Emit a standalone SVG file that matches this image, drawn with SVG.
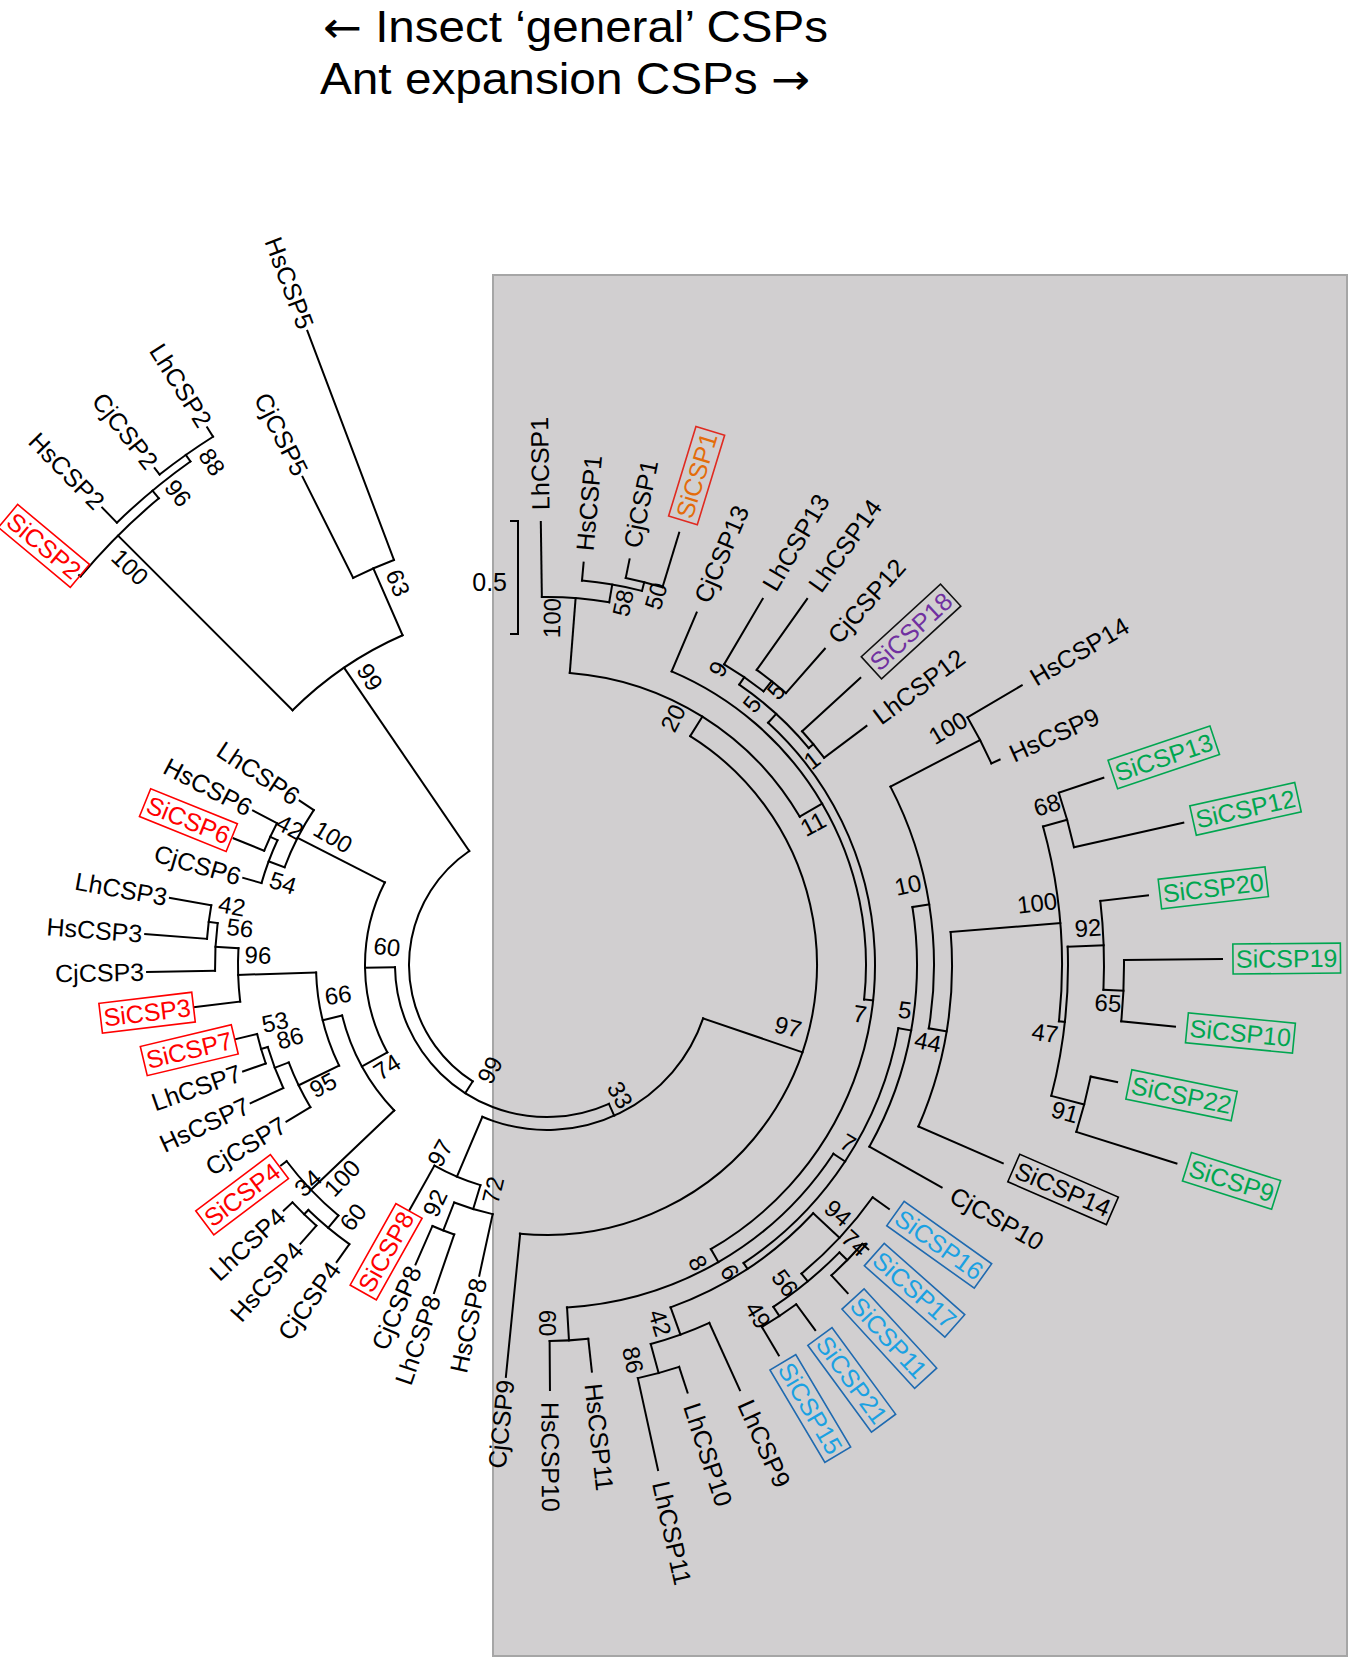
<svg xmlns="http://www.w3.org/2000/svg" width="1350" height="1660" viewBox="0 0 1350 1660">
<style>
.br line,.br circle{fill:none;stroke:#000;stroke-width:2;stroke-linecap:square}
.lf{font-family:"Liberation Sans",Arial,Helvetica,sans-serif;font-size:25px;fill:#000}
.bs{font-family:"Liberation Sans",Arial,Helvetica,sans-serif;font-size:24px;fill:#000;text-anchor:middle}
.ttl{font-family:"Liberation Sans",Arial,Helvetica,sans-serif;font-size:44px;fill:#000}
.arw{font-family:"DejaVu Sans",sans-serif;font-size:43px}
rect.bx{fill:none;stroke-width:1.6}
.red text{fill:#ff0000}.red rect{stroke:#ff0000}
.org text{fill:#e46c0a}.org rect{stroke:#e02a20}
.pur text{fill:#7030a0}.pur rect{stroke:#111}
.grn text{fill:#00a650}.grn rect{stroke:#00a650}
.blu text{fill:#1ba1e2}.blu rect{stroke:#1f6ab0}
.blk rect{stroke:#000}
</style>
<rect width="1350" height="1660" fill="#fff"/>
<g id="title">
<text class="ttl" x="323" y="42" textLength="505" lengthAdjust="spacingAndGlyphs"><tspan class="arw">←</tspan> Insect ‘general’ CSPs</text>
<text class="ttl" x="320" y="94" textLength="490" lengthAdjust="spacingAndGlyphs">Ant expansion CSPs <tspan class="arw">→</tspan></text>
</g>
<rect id="ant-expansion-box" x="493" y="275" width="854" height="1381" fill="#d1cfd0" stroke="#a6a6a6" stroke-width="2"/>
<g id="scale">
<path d="M510 521H518V634H510" fill="none" stroke="#000" stroke-width="2"/>
<text class="lf" x="507" y="591" text-anchor="end" font-size="24">0.5</text>
</g>
<g id="connectors" class="br">
<circle cx="547" cy="965" r="138" stroke-dasharray="272.50 9999" transform="rotate(122.55 547 965)"/>
<circle cx="547" cy="965" r="360" stroke-dasharray="133.96 9999" transform="rotate(225.03 547 965)"/>
<circle cx="547" cy="965" r="433" stroke-dasharray="44.59 9999" transform="rotate(243.4 547 965)"/>
<circle cx="547" cy="965" r="607" stroke-dasharray="110.71 9999" transform="rotate(219.8 547 965)"/>
<circle cx="547" cy="965" r="617" stroke-dasharray="95.84 9999" transform="rotate(225.8 547 965)"/>
<circle cx="547" cy="965" r="625" stroke-dasharray="65.45 9999" transform="rotate(231.7 547 965)"/>
<circle cx="547" cy="965" r="152" stroke-dasharray="300.26 9999" transform="rotate(65.96 547 965)"/>
<circle cx="547" cy="965" r="182" stroke-dasharray="177.03 9999" transform="rotate(151.28 547 965)"/>
<circle cx="547" cy="965" r="280" stroke-dasharray="64.36 9999" transform="rotate(200.43 547 965)"/>
<circle cx="547" cy="965" r="297" stroke-dasharray="45.87 9999" transform="rotate(196 547 965)"/>
<circle cx="547" cy="965" r="305" stroke-dasharray="30.34 9999" transform="rotate(202 547 965)"/>
<circle cx="547" cy="965" r="211" stroke-dasharray="109.63 9999" transform="rotate(136.39 547 965)"/>
<circle cx="547" cy="965" r="231" stroke-dasharray="96.76 9999" transform="rotate(154.16 547 965)"/>
<circle cx="547" cy="965" r="309" stroke-dasharray="53.55 9999" transform="rotate(173.2 547 965)"/>
<circle cx="547" cy="965" r="332" stroke-dasharray="47.80 9999" transform="rotate(179 547 965)"/>
<circle cx="547" cy="965" r="341" stroke-dasharray="33.92 9999" transform="rotate(184.4 547 965)"/>
<circle cx="547" cy="965" r="276" stroke-dasharray="49.76 9999" transform="rotate(149 547 965)"/>
<circle cx="547" cy="965" r="291" stroke-dasharray="43.93 9999" transform="rotate(155 547 965)"/>
<circle cx="547" cy="965" r="298" stroke-dasharray="30.69 9999" transform="rotate(160.7 547 965)"/>
<circle cx="547" cy="965" r="326" stroke-dasharray="75.22 9999" transform="rotate(129.78 547 965)"/>
<circle cx="547" cy="965" r="342" stroke-dasharray="53.42 9999" transform="rotate(125.3 547 965)"/>
<circle cx="547" cy="965" r="348" stroke-dasharray="33.41 9999" transform="rotate(131.5 547 965)"/>
<circle cx="547" cy="965" r="165" stroke-dasharray="271.25 9999" transform="rotate(18.87 547 965)"/>
<circle cx="547" cy="965" r="230" stroke-dasharray="50.06 9999" transform="rotate(106.83 547 965)"/>
<circle cx="547" cy="965" r="255" stroke-dasharray="40.28 9999" transform="rotate(102.3 547 965)"/>
<circle cx="547" cy="965" r="285" stroke-dasharray="23.38 9999" transform="rotate(109 547 965)"/>
<circle cx="547" cy="965" r="270" stroke-dasharray="724.15 9999" transform="rotate(302.03 547 965)"/>
<circle cx="547" cy="965" r="293" stroke-dasharray="281.98 9999" transform="rotate(274.46 547 965)"/>
<circle cx="547" cy="965" r="368" stroke-dasharray="67.63 9999" transform="rotate(269.2 547 965)"/>
<circle cx="547" cy="965" r="386" stroke-dasharray="60.97 9999" transform="rotate(275.2 547 965)"/>
<circle cx="547" cy="965" r="395" stroke-dasharray="37.92 9999" transform="rotate(281.5 547 965)"/>
<circle cx="547" cy="965" r="319" stroke-dasharray="407.55 9999" transform="rotate(293 547 965)"/>
<circle cx="547" cy="965" r="328" stroke-dasharray="616.14 9999" transform="rotate(312.39 547 965)"/>
<circle cx="547" cy="965" r="340" stroke-dasharray="94.47 9999" transform="rotate(304.43 547 965)"/>
<circle cx="547" cy="965" r="349" stroke-dasharray="47.82 9999" transform="rotate(300.5 547 965)"/>
<circle cx="547" cy="965" r="362" stroke-dasharray="37.28 9999" transform="rotate(305.4 547 965)"/>
<circle cx="547" cy="965" r="346" stroke-dasharray="34.42 9999" transform="rotate(317.5 547 965)"/>
<circle cx="547" cy="965" r="343" stroke-dasharray="318.90 9999" transform="rotate(33.38 547 965)"/>
<circle cx="547" cy="965" r="357" stroke-dasharray="289.05 9999" transform="rotate(10.19 547 965)"/>
<circle cx="547" cy="965" r="370" stroke-dasharray="248.10 9999" transform="rotate(350.98 547 965)"/>
<circle cx="547" cy="965" r="387" stroke-dasharray="249.03 9999" transform="rotate(332.55 547 965)"/>
<circle cx="547" cy="965" r="488" stroke-dasharray="51.95 9999" transform="rotate(329.5 547 965)"/>
<circle cx="547" cy="965" r="405" stroke-dasharray="199.12 9999" transform="rotate(355.33 547 965)"/>
<circle cx="547" cy="965" r="515" stroke-dasharray="196.58 9999" transform="rotate(344.4 547 965)"/>
<circle cx="547" cy="965" r="540" stroke-dasharray="56.55 9999" transform="rotate(341.4 547 965)"/>
<circle cx="547" cy="965" r="521" stroke-dasharray="150.67 9999" transform="rotate(357.98 547 965)"/>
<circle cx="547" cy="965" r="557" stroke-dasharray="88.95 9999" transform="rotate(353.4 547 965)"/>
<circle cx="547" cy="965" r="577" stroke-dasharray="61.43 9999" transform="rotate(359.5 547 965)"/>
<circle cx="547" cy="965" r="555" stroke-dasharray="57.15 9999" transform="rotate(11.6 547 965)"/>
<circle cx="547" cy="965" r="364" stroke-dasharray="172.48 9999" transform="rotate(43 547 965)"/>
<circle cx="547" cy="965" r="400" stroke-dasharray="104.72 9999" transform="rotate(35.5 547 965)"/>
<circle cx="547" cy="965" r="410" stroke-dasharray="85.87 9999" transform="rotate(44.5 547 965)"/>
<circle cx="547" cy="965" r="421" stroke-dasharray="44.09 9999" transform="rotate(41.5 547 965)"/>
<circle cx="547" cy="965" r="421" stroke-dasharray="41.15 9999" transform="rotate(53.7 547 965)"/>
<circle cx="547" cy="965" r="393" stroke-dasharray="62.42 9999" transform="rotate(65.6 547 965)"/>
<circle cx="547" cy="965" r="423" stroke-dasharray="42.82 9999" transform="rotate(71.8 547 965)"/>
<circle cx="547" cy="965" r="376" stroke-dasharray="38.72 9999" transform="rotate(83.7 547 965)"/>
<line x1="685" y1="965" x2="907" y2="965" transform="rotate(235.69 547 965)"/>
<line x1="907" y1="965" x2="980" y2="965" transform="rotate(246.35 547 965)"/>
<line x1="980" y1="965" x2="1093" y2="965" transform="rotate(243.4 547 965)"/>
<line x1="980" y1="965" x2="1225" y2="965" transform="rotate(249.3 547 965)"/>
<line x1="907" y1="965" x2="1154" y2="965" transform="rotate(225.03 547 965)"/>
<line x1="1154" y1="965" x2="1156" y2="965" transform="rotate(219.8 547 965)"/>
<line x1="1154" y1="965" x2="1164" y2="965" transform="rotate(230.25 547 965)"/>
<line x1="1164" y1="965" x2="1185" y2="965" transform="rotate(225.8 547 965)"/>
<line x1="1164" y1="965" x2="1172" y2="965" transform="rotate(234.7 547 965)"/>
<line x1="1172" y1="965" x2="1180" y2="965" transform="rotate(231.7 547 965)"/>
<line x1="1172" y1="965" x2="1183" y2="965" transform="rotate(237.7 547 965)"/>
<line x1="685" y1="965" x2="699" y2="965" transform="rotate(122.55 547 965)"/>
<line x1="699" y1="965" x2="729" y2="965" transform="rotate(179.14 547 965)"/>
<line x1="729" y1="965" x2="827" y2="965" transform="rotate(207.01 547 965)"/>
<line x1="827" y1="965" x2="844" y2="965" transform="rotate(213.6 547 965)"/>
<line x1="827" y1="965" x2="844" y2="965" transform="rotate(200.43 547 965)"/>
<line x1="844" y1="965" x2="863" y2="965" transform="rotate(196 547 965)"/>
<line x1="844" y1="965" x2="852" y2="965" transform="rotate(204.85 547 965)"/>
<line x1="852" y1="965" x2="885" y2="965" transform="rotate(202 547 965)"/>
<line x1="852" y1="965" x2="879" y2="965" transform="rotate(207.7 547 965)"/>
<line x1="729" y1="965" x2="758" y2="965" transform="rotate(151.28 547 965)"/>
<line x1="758" y1="965" x2="778" y2="965" transform="rotate(166.16 547 965)"/>
<line x1="778" y1="965" x2="856" y2="965" transform="rotate(178.16 547 965)"/>
<line x1="856" y1="965" x2="902" y2="965" transform="rotate(173.2 547 965)"/>
<line x1="856" y1="965" x2="879" y2="965" transform="rotate(183.13 547 965)"/>
<line x1="879" y1="965" x2="947" y2="965" transform="rotate(179 547 965)"/>
<line x1="879" y1="965" x2="888" y2="965" transform="rotate(187.25 547 965)"/>
<line x1="888" y1="965" x2="950" y2="965" transform="rotate(184.4 547 965)"/>
<line x1="888" y1="965" x2="930" y2="965" transform="rotate(190.1 547 965)"/>
<line x1="778" y1="965" x2="823" y2="965" transform="rotate(154.16 547 965)"/>
<line x1="823" y1="965" x2="851" y2="965" transform="rotate(149 547 965)"/>
<line x1="823" y1="965" x2="838" y2="965" transform="rotate(159.33 547 965)"/>
<line x1="838" y1="965" x2="874" y2="965" transform="rotate(155 547 965)"/>
<line x1="838" y1="965" x2="845" y2="965" transform="rotate(163.65 547 965)"/>
<line x1="845" y1="965" x2="869" y2="965" transform="rotate(160.7 547 965)"/>
<line x1="845" y1="965" x2="867" y2="965" transform="rotate(166.6 547 965)"/>
<line x1="758" y1="965" x2="873" y2="965" transform="rotate(136.39 547 965)"/>
<line x1="873" y1="965" x2="880" y2="965" transform="rotate(143 547 965)"/>
<line x1="873" y1="965" x2="889" y2="965" transform="rotate(129.78 547 965)"/>
<line x1="889" y1="965" x2="911" y2="965" transform="rotate(125.3 547 965)"/>
<line x1="889" y1="965" x2="895" y2="965" transform="rotate(134.25 547 965)"/>
<line x1="895" y1="965" x2="919" y2="965" transform="rotate(131.5 547 965)"/>
<line x1="895" y1="965" x2="907" y2="965" transform="rotate(137 547 965)"/>
<line x1="699" y1="965" x2="712" y2="965" transform="rotate(65.96 547 965)"/>
<line x1="712" y1="965" x2="777" y2="965" transform="rotate(113.06 547 965)"/>
<line x1="777" y1="965" x2="828" y2="965" transform="rotate(119.3 547 965)"/>
<line x1="777" y1="965" x2="802" y2="965" transform="rotate(106.83 547 965)"/>
<line x1="802" y1="965" x2="865" y2="965" transform="rotate(102.3 547 965)"/>
<line x1="802" y1="965" x2="832" y2="965" transform="rotate(111.35 547 965)"/>
<line x1="832" y1="965" x2="894" y2="965" transform="rotate(109 547 965)"/>
<line x1="832" y1="965" x2="874" y2="965" transform="rotate(113.7 547 965)"/>
<line x1="712" y1="965" x2="817" y2="965" transform="rotate(18.87 547 965)"/>
<line x1="817" y1="965" x2="961" y2="965" transform="rotate(95.7 547 965)"/>
<line x1="817" y1="965" x2="840" y2="965" transform="rotate(302.03 547 965)"/>
<line x1="840" y1="965" x2="915" y2="965" transform="rotate(274.46 547 965)"/>
<line x1="915" y1="965" x2="990" y2="965" transform="rotate(269.2 547 965)"/>
<line x1="915" y1="965" x2="933" y2="965" transform="rotate(279.73 547 965)"/>
<line x1="933" y1="965" x2="951" y2="965" transform="rotate(275.2 547 965)"/>
<line x1="933" y1="965" x2="942" y2="965" transform="rotate(284.25 547 965)"/>
<line x1="942" y1="965" x2="961" y2="965" transform="rotate(281.5 547 965)"/>
<line x1="942" y1="965" x2="999" y2="965" transform="rotate(287 547 965)"/>
<line x1="840" y1="965" x2="866" y2="965" transform="rotate(329.6 547 965)"/>
<line x1="866" y1="965" x2="930" y2="965" transform="rotate(293 547 965)"/>
<line x1="866" y1="965" x2="875" y2="965" transform="rotate(6.2 547 965)"/>
<line x1="875" y1="965" x2="887" y2="965" transform="rotate(312.39 547 965)"/>
<line x1="887" y1="965" x2="896" y2="965" transform="rotate(304.43 547 965)"/>
<line x1="896" y1="965" x2="972" y2="965" transform="rotate(300.5 547 965)"/>
<line x1="896" y1="965" x2="909" y2="965" transform="rotate(308.35 547 965)"/>
<line x1="909" y1="965" x2="996" y2="965" transform="rotate(305.4 547 965)"/>
<line x1="909" y1="965" x2="968" y2="965" transform="rotate(311.3 547 965)"/>
<line x1="887" y1="965" x2="893" y2="965" transform="rotate(320.35 547 965)"/>
<line x1="893" y1="965" x2="972" y2="965" transform="rotate(317.5 547 965)"/>
<line x1="893" y1="965" x2="946" y2="965" transform="rotate(323.2 547 965)"/>
<line x1="875" y1="965" x2="890" y2="965" transform="rotate(60.02 547 965)"/>
<line x1="890" y1="965" x2="904" y2="965" transform="rotate(33.38 547 965)"/>
<line x1="904" y1="965" x2="917" y2="965" transform="rotate(10.19 547 965)"/>
<line x1="917" y1="965" x2="934" y2="965" transform="rotate(350.98 547 965)"/>
<line x1="934" y1="965" x2="1035" y2="965" transform="rotate(332.55 547 965)"/>
<line x1="1035" y1="965" x2="1098" y2="965" transform="rotate(329.5 547 965)"/>
<line x1="1035" y1="965" x2="1044" y2="965" transform="rotate(335.6 547 965)"/>
<line x1="934" y1="965" x2="952" y2="965" transform="rotate(9.42 547 965)"/>
<line x1="952" y1="965" x2="1062" y2="965" transform="rotate(355.33 547 965)"/>
<line x1="1062" y1="965" x2="1087" y2="965" transform="rotate(344.4 547 965)"/>
<line x1="1087" y1="965" x2="1134" y2="965" transform="rotate(341.4 547 965)"/>
<line x1="1087" y1="965" x2="1199" y2="965" transform="rotate(347.4 547 965)"/>
<line x1="1062" y1="965" x2="1068" y2="965" transform="rotate(6.27 547 965)"/>
<line x1="1068" y1="965" x2="1104" y2="965" transform="rotate(357.98 547 965)"/>
<line x1="1104" y1="965" x2="1152" y2="965" transform="rotate(353.4 547 965)"/>
<line x1="1104" y1="965" x2="1124" y2="965" transform="rotate(2.55 547 965)"/>
<line x1="1124" y1="965" x2="1222" y2="965" transform="rotate(359.5 547 965)"/>
<line x1="1124" y1="965" x2="1178" y2="965" transform="rotate(5.6 547 965)"/>
<line x1="1068" y1="965" x2="1102" y2="965" transform="rotate(14.55 547 965)"/>
<line x1="1102" y1="965" x2="1129" y2="965" transform="rotate(11.6 547 965)"/>
<line x1="1102" y1="965" x2="1207" y2="965" transform="rotate(17.5 547 965)"/>
<line x1="952" y1="965" x2="1044" y2="965" transform="rotate(23.5 547 965)"/>
<line x1="917" y1="965" x2="1000" y2="965" transform="rotate(29.4 547 965)"/>
<line x1="904" y1="965" x2="911" y2="965" transform="rotate(56.58 547 965)"/>
<line x1="911" y1="965" x2="947" y2="965" transform="rotate(43 547 965)"/>
<line x1="947" y1="965" x2="967" y2="965" transform="rotate(35.5 547 965)"/>
<line x1="947" y1="965" x2="957" y2="965" transform="rotate(50.5 547 965)"/>
<line x1="957" y1="965" x2="968" y2="965" transform="rotate(44.5 547 965)"/>
<line x1="968" y1="965" x2="976" y2="965" transform="rotate(41.5 547 965)"/>
<line x1="968" y1="965" x2="992" y2="965" transform="rotate(47.5 547 965)"/>
<line x1="957" y1="965" x2="968" y2="965" transform="rotate(56.5 547 965)"/>
<line x1="968" y1="965" x2="1000" y2="965" transform="rotate(53.7 547 965)"/>
<line x1="968" y1="965" x2="1001" y2="965" transform="rotate(59.3 547 965)"/>
<line x1="911" y1="965" x2="940" y2="965" transform="rotate(70.15 547 965)"/>
<line x1="940" y1="965" x2="1014" y2="965" transform="rotate(65.6 547 965)"/>
<line x1="940" y1="965" x2="970" y2="965" transform="rotate(74.7 547 965)"/>
<line x1="970" y1="965" x2="997" y2="965" transform="rotate(71.8 547 965)"/>
<line x1="970" y1="965" x2="1064" y2="965" transform="rotate(77.6 547 965)"/>
<line x1="890" y1="965" x2="923" y2="965" transform="rotate(86.65 547 965)"/>
<line x1="923" y1="965" x2="956" y2="965" transform="rotate(83.7 547 965)"/>
<line x1="923" y1="965" x2="972" y2="965" transform="rotate(89.6 547 965)"/>
</g>
<g id="leaves">
<g id="LhCSP1"><text class="lf" x="1002" y="965" dy=".35em" transform="rotate(269.2 547 965)">LhCSP1</text></g>
<g id="HsCSP1"><text class="lf" x="963" y="965" dy=".35em" transform="rotate(275.2 547 965)">HsCSP1</text></g>
<g id="CjCSP1"><text class="lf" x="973" y="965" dy=".35em" transform="rotate(281.5 547 965)">CjCSP1</text></g>
<g id="SiCSP1" class="org" transform="rotate(287 547 965)"><rect class="bx" x="1012" y="950" width="93.5" height="30"/><text class="lf" x="1015" y="965" dy=".35em">SiCSP1</text></g>
<g id="CjCSP13"><text class="lf" x="942" y="965" dy=".35em" transform="rotate(293 547 965)">CjCSP13</text></g>
<g id="LhCSP13"><text class="lf" x="984" y="965" dy=".35em" transform="rotate(300.5 547 965)">LhCSP13</text></g>
<g id="LhCSP14"><text class="lf" x="1008" y="965" dy=".35em" transform="rotate(305.4 547 965)">LhCSP14</text></g>
<g id="CjCSP12"><text class="lf" x="980" y="965" dy=".35em" transform="rotate(311.3 547 965)">CjCSP12</text></g>
<g id="SiCSP18" class="pur" transform="rotate(317.5 547 965)"><rect class="bx" x="987" y="950" width="107.5" height="30"/><text class="lf" x="990" y="965" dy=".35em">SiCSP18</text></g>
<g id="LhCSP12"><text class="lf" x="958" y="965" dy=".35em" transform="rotate(323.2 547 965)">LhCSP12</text></g>
<g id="HsCSP14"><text class="lf" x="1110" y="965" dy=".35em" transform="rotate(329.5 547 965)">HsCSP14</text></g>
<g id="HsCSP9"><text class="lf" x="1056" y="965" dy=".35em" transform="rotate(335.6 547 965)">HsCSP9</text></g>
<g id="SiCSP13" class="grn" transform="rotate(341.4 547 965)"><rect class="bx" x="1144" y="950" width="107.5" height="30"/><text class="lf" x="1147" y="965" dy=".35em">SiCSP13</text></g>
<g id="SiCSP12" class="grn" transform="rotate(347.4 547 965)"><rect class="bx" x="1209" y="950" width="107.5" height="30"/><text class="lf" x="1212" y="965" dy=".35em">SiCSP12</text></g>
<g id="SiCSP20" class="grn" transform="rotate(353.4 547 965)"><rect class="bx" x="1164" y="950" width="107.5" height="30"/><text class="lf" x="1167" y="965" dy=".35em">SiCSP20</text></g>
<g id="SiCSP19" class="grn" transform="rotate(359.5 547 965)"><rect class="bx" x="1233" y="950" width="107.5" height="30"/><text class="lf" x="1236" y="965" dy=".35em">SiCSP19</text></g>
<g id="SiCSP10" class="grn" transform="rotate(5.6 547 965)"><rect class="bx" x="1190" y="950" width="107.5" height="30"/><text class="lf" x="1193" y="965" dy=".35em">SiCSP10</text></g>
<g id="SiCSP22" class="grn" transform="rotate(11.6 547 965)"><rect class="bx" x="1141" y="950" width="107.5" height="30"/><text class="lf" x="1144" y="965" dy=".35em">SiCSP22</text></g>
<g id="SiCSP9" class="grn" transform="rotate(17.5 547 965)"><rect class="bx" x="1218" y="950" width="93.5" height="30"/><text class="lf" x="1221" y="965" dy=".35em">SiCSP9</text></g>
<g id="SiCSP14" class="blk" transform="rotate(23.5 547 965)"><rect class="bx" x="1056" y="950" width="107.5" height="30"/><text class="lf" x="1059" y="965" dy=".35em">SiCSP14</text></g>
<g id="CjCSP10"><text class="lf" x="1012" y="965" dy=".35em" transform="rotate(29.4 547 965)">CjCSP10</text></g>
<g id="SiCSP16" class="blu" transform="rotate(35.5 547 965)"><rect class="bx" x="975" y="950" width="107.5" height="30"/><text class="lf" x="978" y="965" dy=".35em">SiCSP16</text></g>
<g id="SiCSP17" class="blu" transform="rotate(41.5 547 965)"><rect class="bx" x="984" y="950" width="107.5" height="30"/><text class="lf" x="987" y="965" dy=".35em">SiCSP17</text></g>
<g id="SiCSP11" class="blu" transform="rotate(47.5 547 965)"><rect class="bx" x="1000" y="950" width="107.5" height="30"/><text class="lf" x="1003" y="965" dy=".35em">SiCSP11</text></g>
<g id="SiCSP21" class="blu" transform="rotate(53.7 547 965)"><rect class="bx" x="1008" y="950" width="107.5" height="30"/><text class="lf" x="1011" y="965" dy=".35em">SiCSP21</text></g>
<g id="SiCSP15" class="blu" transform="rotate(59.3 547 965)"><rect class="bx" x="1009" y="950" width="107.5" height="30"/><text class="lf" x="1012" y="965" dy=".35em">SiCSP15</text></g>
<g id="LhCSP9"><text class="lf" x="1026" y="965" dy=".35em" transform="rotate(65.6 547 965)">LhCSP9</text></g>
<g id="LhCSP10"><text class="lf" x="1009" y="965" dy=".35em" transform="rotate(71.8 547 965)">LhCSP10</text></g>
<g id="LhCSP11"><text class="lf" x="1076" y="965" dy=".35em" transform="rotate(77.6 547 965)">LhCSP11</text></g>
<g id="HsCSP11"><text class="lf" x="968" y="965" dy=".35em" transform="rotate(83.7 547 965)">HsCSP11</text></g>
<g id="HsCSP10"><text class="lf" x="984" y="965" dy=".35em" transform="rotate(89.6 547 965)">HsCSP10</text></g>
<g id="CjCSP9"><text class="lf" x="130" y="965" dy=".35em" text-anchor="end" transform="rotate(275.7 547 965)">CjCSP9</text></g>
<g id="HsCSP8"><text class="lf" x="226" y="965" dy=".35em" text-anchor="end" transform="rotate(282.3 547 965)">HsCSP8</text></g>
<g id="LhCSP8"><text class="lf" x="197" y="965" dy=".35em" text-anchor="end" transform="rotate(289 547 965)">LhCSP8</text></g>
<g id="CjCSP8"><text class="lf" x="217" y="965" dy=".35em" text-anchor="end" transform="rotate(293.7 547 965)">CjCSP8</text></g>
<g id="SiCSP8" class="red" transform="rotate(299.3 547 965)"><rect class="bx" x="171.5" y="950" width="93.5" height="30"/><text class="lf" x="262" y="965" dy=".35em" text-anchor="end">SiCSP8</text></g>
<g id="CjCSP4"><text class="lf" x="180" y="965" dy=".35em" text-anchor="end" transform="rotate(305.3 547 965)">CjCSP4</text></g>
<g id="HsCSP4"><text class="lf" x="172" y="965" dy=".35em" text-anchor="end" transform="rotate(311.5 547 965)">HsCSP4</text></g>
<g id="LhCSP4"><text class="lf" x="184" y="965" dy=".35em" text-anchor="end" transform="rotate(317 547 965)">LhCSP4</text></g>
<g id="SiCSP4" class="red" transform="rotate(323 547 965)"><rect class="bx" x="118.5" y="950" width="93.5" height="30"/><text class="lf" x="209" y="965" dy=".35em" text-anchor="end">SiCSP4</text></g>
<g id="CjCSP7"><text class="lf" x="240" y="965" dy=".35em" text-anchor="end" transform="rotate(329 547 965)">CjCSP7</text></g>
<g id="HsCSP7"><text class="lf" x="217" y="965" dy=".35em" text-anchor="end" transform="rotate(335 547 965)">HsCSP7</text></g>
<g id="LhCSP7"><text class="lf" x="222" y="965" dy=".35em" text-anchor="end" transform="rotate(340.7 547 965)">LhCSP7</text></g>
<g id="SiCSP7" class="red" transform="rotate(346.6 547 965)"><rect class="bx" x="132.5" y="950" width="93.5" height="30"/><text class="lf" x="223" y="965" dy=".35em" text-anchor="end">SiCSP7</text></g>
<g id="SiCSP3" class="red" transform="rotate(353.2 547 965)"><rect class="bx" x="97.5" y="950" width="93.5" height="30"/><text class="lf" x="188" y="965" dy=".35em" text-anchor="end">SiCSP3</text></g>
<g id="CjCSP3"><text class="lf" x="144" y="965" dy=".35em" text-anchor="end" transform="rotate(359 547 965)">CjCSP3</text></g>
<g id="HsCSP3"><text class="lf" x="141" y="965" dy=".35em" text-anchor="end" transform="rotate(4.4 547 965)">HsCSP3</text></g>
<g id="LhCSP3"><text class="lf" x="161" y="965" dy=".35em" text-anchor="end" transform="rotate(10.1 547 965)">LhCSP3</text></g>
<g id="CjCSP6"><text class="lf" x="228" y="965" dy=".35em" text-anchor="end" transform="rotate(16 547 965)">CjCSP6</text></g>
<g id="SiCSP6" class="red" transform="rotate(22 547 965)"><rect class="bx" x="113.5" y="950" width="93.5" height="30"/><text class="lf" x="204" y="965" dy=".35em" text-anchor="end">SiCSP6</text></g>
<g id="HsCSP6"><text class="lf" x="212" y="965" dy=".35em" text-anchor="end" transform="rotate(27.7 547 965)">HsCSP6</text></g>
<g id="LhCSP6"><text class="lf" x="247" y="965" dy=".35em" text-anchor="end" transform="rotate(33.6 547 965)">LhCSP6</text></g>
<g id="SiCSP2" class="red" transform="rotate(39.8 547 965)"><rect class="bx" x="-154.5" y="950" width="93.5" height="30"/><text class="lf" x="-64" y="965" dy=".35em" text-anchor="end">SiCSP2</text></g>
<g id="HsCSP2"><text class="lf" x="-94" y="965" dy=".35em" text-anchor="end" transform="rotate(45.8 547 965)">HsCSP2</text></g>
<g id="CjCSP2"><text class="lf" x="-89" y="965" dy=".35em" text-anchor="end" transform="rotate(51.7 547 965)">CjCSP2</text></g>
<g id="LhCSP2"><text class="lf" x="-92" y="965" dy=".35em" text-anchor="end" transform="rotate(57.7 547 965)">LhCSP2</text></g>
<g id="CjCSP5"><text class="lf" x="-2" y="965" dy=".35em" text-anchor="end" transform="rotate(63.4 547 965)">CjCSP5</text></g>
<g id="HsCSP5"><text class="lf" x="-134" y="965" dy=".35em" text-anchor="end" transform="rotate(69.3 547 965)">HsCSP5</text></g>
</g>
<g id="support">
<text class="bs" x="130" y="567" dy=".35em" transform="rotate(43.7 130 567)">100</text>
<text class="bs" x="178" y="493" dy=".35em" transform="rotate(52 178 493)">96</text>
<text class="bs" x="212" y="462" dy=".35em" transform="rotate(56.3 212 462)">88</text>
<text class="bs" x="398" y="583" dy=".35em" transform="rotate(68.7 398 583)">63</text>
<text class="bs" x="370" y="677" dy=".35em" transform="rotate(58.4 370 677)">99</text>
<text class="bs" x="290" y="827" dy=".35em" transform="rotate(28.2 290 827)">42</text>
<text class="bs" x="333" y="837" dy=".35em" transform="rotate(30.9 333 837)">100</text>
<text class="bs" x="283" y="883" dy=".35em" transform="rotate(17.3 283 883)">54</text>
<text class="bs" x="232" y="906" dy=".35em" transform="rotate(10.6 232 906)">42</text>
<text class="bs" x="240" y="928" dy=".35em" transform="rotate(6.9 240 928)">56</text>
<text class="bs" x="258" y="955" dy=".35em" transform="rotate(2 258 955)">96</text>
<text class="bs" x="387" y="947" dy=".35em" transform="rotate(6.4 387 947)">60</text>
<text class="bs" x="338" y="995" dy=".35em" transform="rotate(-8.2 338 995)">66</text>
<text class="bs" x="275" y="1022" dy=".35em" transform="rotate(-11.8 275 1022)">53</text>
<text class="bs" x="290" y="1038" dy=".35em" transform="rotate(-15.9 290 1038)">86</text>
<text class="bs" x="323" y="1085" dy=".35em" transform="rotate(-28.2 323 1085)">95</text>
<text class="bs" x="387" y="1067" dy=".35em" transform="rotate(-32.5 387 1067)">74</text>
<text class="bs" x="308" y="1183" dy=".35em" transform="rotate(-42.4 308 1183)">34</text>
<text class="bs" x="342" y="1178" dy=".35em" transform="rotate(-46.1 342 1178)">100</text>
<text class="bs" x="353" y="1217" dy=".35em" transform="rotate(-52.4 353 1217)">60</text>
<text class="bs" x="440" y="1153" dy=".35em" transform="rotate(-60.4 440 1153)">97</text>
<text class="bs" x="435" y="1203" dy=".35em" transform="rotate(-64.8 435 1203)">92</text>
<text class="bs" x="493" y="1190" dy=".35em" transform="rotate(-76.5 493 1190)">72</text>
<text class="bs" x="490" y="1070" dy=".35em" transform="rotate(-61.5 490 1070)">99</text>
<text class="bs" x="620" y="1095" dy=".35em" transform="rotate(60.7 620 1095)">33</text>
<text class="bs" x="788" y="1027" dy=".35em" transform="rotate(14.4 788 1027)">97</text>
<text class="bs" x="860" y="1014" dy=".35em" transform="rotate(8.9 860 1014)">7</text>
<text class="bs" x="848" y="1143" dy=".35em" transform="rotate(30.6 848 1143)">7</text>
<text class="bs" x="698" y="1263" dy=".35em" transform="rotate(63.1 698 1263)">8</text>
<text class="bs" x="730" y="1272" dy=".35em" transform="rotate(59.2 730 1272)">6</text>
<text class="bs" x="838" y="1213" dy=".35em" transform="rotate(40.4 838 1213)">94</text>
<text class="bs" x="855" y="1243" dy=".35em" transform="rotate(42.1 855 1243)">74</text>
<text class="bs" x="785" y="1283" dy=".35em" transform="rotate(53.2 785 1283)">56</text>
<text class="bs" x="758" y="1315" dy=".35em" transform="rotate(58.9 758 1315)">49</text>
<text class="bs" x="547" y="1323" dy=".35em" transform="rotate(90 547 1323)">60</text>
<text class="bs" x="660" y="1323" dy=".35em" transform="rotate(72.5 660 1323)">42</text>
<text class="bs" x="633" y="1360" dy=".35em" transform="rotate(77.7 633 1360)">86</text>
<text class="bs" x="552" y="618" dy=".35em" transform="rotate(270.8 552 618)">100</text>
<text class="bs" x="623" y="603" dy=".35em" transform="rotate(281.9 623 603)">58</text>
<text class="bs" x="656" y="596" dy=".35em" transform="rotate(286.5 656 596)">50</text>
<text class="bs" x="673" y="718" dy=".35em" transform="rotate(297 673 718)">20</text>
<text class="bs" x="718" y="669" dy=".35em" transform="rotate(300 718 669)">9</text>
<text class="bs" x="752" y="704" dy=".35em" transform="rotate(308 752 704)">5</text>
<text class="bs" x="776" y="691" dy=".35em" transform="rotate(309.9 776 691)">5</text>
<text class="bs" x="812" y="760" dy=".35em" transform="rotate(322.3 812 760)">1</text>
<text class="bs" x="813" y="824" dy=".35em" transform="rotate(332 813 824)">11</text>
<text class="bs" x="948" y="728" dy=".35em" transform="rotate(329.4 948 728)">100</text>
<text class="bs" x="908" y="885" dy=".35em" transform="rotate(347.5 908 885)">10</text>
<text class="bs" x="1047" y="805" dy=".35em" transform="rotate(342.3 1047 805)">68</text>
<text class="bs" x="1037" y="903" dy=".35em" transform="rotate(352.8 1037 903)">100</text>
<text class="bs" x="1088" y="928" dy=".35em" transform="rotate(356.1 1088 928)">92</text>
<text class="bs" x="1108" y="1003" dy=".35em" transform="rotate(3.9 1108 1003)">65</text>
<text class="bs" x="1045" y="1033" dy=".35em" transform="rotate(7.8 1045 1033)">47</text>
<text class="bs" x="1065" y="1112" dy=".35em" transform="rotate(15.8 1065 1112)">91</text>
<text class="bs" x="928" y="1042" dy=".35em" transform="rotate(11.4 928 1042)">44</text>
<text class="bs" x="905" y="1010" dy=".35em" transform="rotate(7.2 905 1010)">5</text>
</g>
</svg>
